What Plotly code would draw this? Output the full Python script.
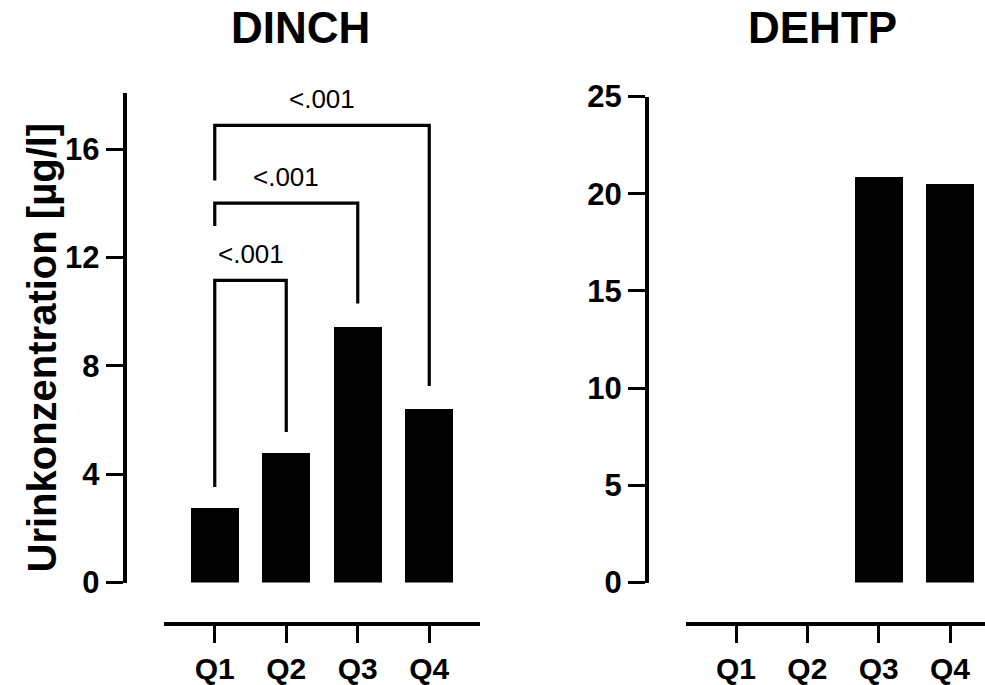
import plotly.graph_objects as go

# ---- data ----
categories = ["Q1", "Q2", "Q3", "Q4"]
dinch_values = [2.78, 4.79, 9.46, 6.43]
dehtp_values = [None, None, 20.9, 20.5]
panel_titles = ["DINCH", "DEHTP"]
y_title = "Urinkonzentration [µg/l]"
dinch_ticks = [0, 4, 8, 12, 16]
dehtp_ticks = [0, 5, 10, 15, 20, 25]

# significance brackets (DINCH): start idx, end idx, top, left-leg bottom, right-leg bottom, label
br_start = [0, 0, 0]
br_end = [1, 2, 3]
br_top = [11.16, 14.01, 16.88]
br_left_bottom = [3.53, 13.17, 14.85]
br_right_bottom = [5.56, 10.30, 7.26]
br_labels = ["<.001", "<.001", "<.001"]
br_label_y = [12.12, 14.97, 17.87]

FONT = "Liberation Sans, Arial, Helvetica, sans-serif"
W, H = 985, 685

def px(x):
    return x / W

def py(y):
    return 1 - y / H

xpos = list(range(len(categories)))

fig = go.Figure()
fig.add_trace(go.Bar(x=xpos, y=dinch_values, width=0.67, marker=dict(color="black", line=dict(width=0)),
                     xaxis="x", yaxis="y", showlegend=False))
fig.add_trace(go.Bar(x=xpos, y=dehtp_values, width=0.67, marker=dict(color="black", line=dict(width=0)),
                     xaxis="x2", yaxis="y2", showlegend=False))

# brackets
for s, e, top, lb, rb, lab, ly in zip(br_start, br_end, br_top, br_left_bottom, br_right_bottom, br_labels, br_label_y):
    fig.add_trace(go.Scatter(x=[s, s, e, e], y=[lb, top, top, rb], mode="lines",
                             line=dict(color="black", width=3.2), xaxis="x", yaxis="y",
                             showlegend=False, hoverinfo="skip", cliponaxis=False))
    fig.add_annotation(x=(s + e) / 2, y=ly, xref="x", yref="y", text=lab, showarrow=False,
                       font=dict(family=FONT, size=26, color="black"),
                       xanchor="center", yanchor="middle")

xtickfont = dict(family=FONT, size=30, color="black")
ytickfont = dict(family=FONT, size=31, color="black")

common_x = dict(tickvals=xpos, ticktext=[f"<b>{c}</b>" for c in categories], showgrid=False,
                zeroline=False, showline=True, linecolor="black", linewidth=3.5,
                ticks="outside", ticklen=17, tickwidth=3.2, tickcolor="black",
                tickfont=xtickfont, anchor="free", position=py(624.3), fixedrange=True,
                automargin=False)
common_y = dict(showgrid=False, zeroline=False, showline=True, linecolor="black", linewidth=3.5,
                ticks="outside", ticklen=17, tickwidth=3.2, tickcolor="black",
                tickfont=ytickfont, anchor="free", fixedrange=True, automargin=False)

fig.update_layout(
    width=W, height=H, autosize=False,
    margin=dict(l=0, r=0, t=0, b=0, pad=0, autoexpand=False),
    paper_bgcolor="white", plot_bgcolor="white",
    font=dict(family=FONT, color="black"),
    bargap=0,
    xaxis=dict(common_x, domain=[px(164), px(480)], range=[-0.71, 3.71]),
    yaxis=dict(common_y, domain=[py(582.5), py(92.7)], range=[0, 18.09],
               tickvals=dinch_ticks, ticktext=[f"<b>{t}</b>" for t in dinch_ticks],
               position=px(124.5)),
    xaxis2=dict(common_x, domain=[px(685.7), 1.0], range=[-0.705, 3.49]),
    yaxis2=dict(common_y, domain=[py(582.5), py(96.5)], range=[0, 25],
                tickvals=dehtp_ticks, ticktext=[f"<b>{t}</b>" for t in dehtp_ticks],
                position=px(646.7)),
)

# panel titles
for t, cx in zip(panel_titles, [300, 822]):
    fig.add_annotation(x=px(cx), y=py(27.5), xref="paper", yref="paper", text=f"<b>{t}</b>",
                       showarrow=False, font=dict(family=FONT, size=44, color="black"),
                       xanchor="center", yanchor="middle")

# y axis title
fig.add_annotation(x=px(41), y=py(347.5), xref="paper", yref="paper", text=f"<b>{y_title}</b>",
                   showarrow=False, textangle=-90, font=dict(family=FONT, size=40, color="black"),
                   xanchor="center", yanchor="middle")

fig.write_html("out.html")
